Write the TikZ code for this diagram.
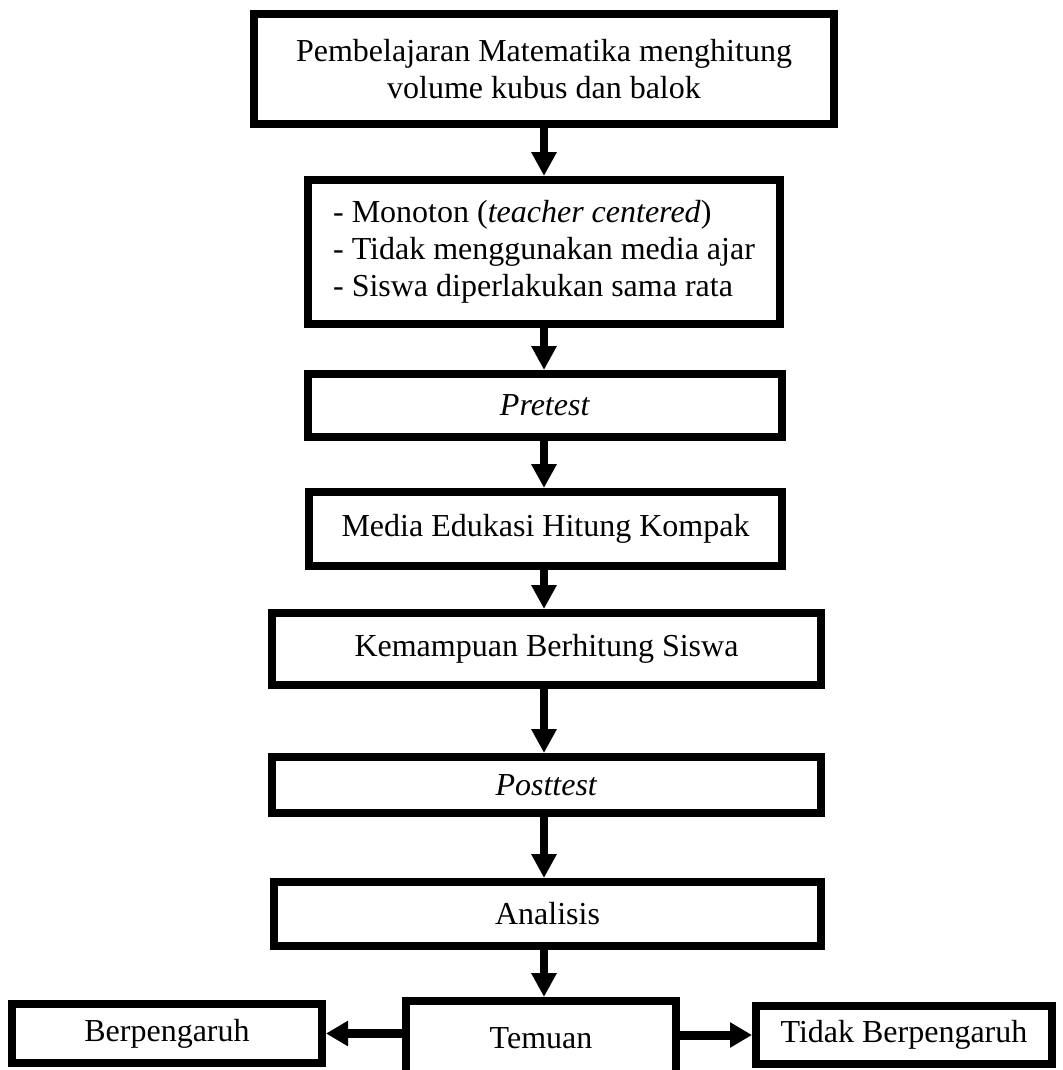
\documentclass[tikz,border=0pt]{standalone}
\usepackage{fontspec}
\setmainfont{Liberation Serif}
\usetikzlibrary{arrows.meta}
\begin{document}
\begin{tikzpicture}[x=1pt,y=-1pt,
  box/.style={draw=black,line width=8pt,rectangle,inner sep=0pt,
    font=\fontsize{32}{37}\selectfont,align=center},
  flow/.style={line width=8pt,-{Triangle[width=24pt,length=24pt]}},
  sflow/.style={line width=9pt,-{Triangle[width=24pt,length=22pt]}}]
\useasboundingbox (0,0) rectangle (1062,1070);
\node[box,minimum width=580pt,minimum height=110pt] (b1) at (544,69)
  {Pembelajaran Matematika menghitung\\volume kubus dan balok};
\node[box,minimum width=472pt,minimum height=144pt,align=left] (b2) at (544,252)
  {- Monoton (\textit{teacher centered})\\- Tidak menggunakan media ajar\\- Siswa diperlakukan sama rata};
\node[box,minimum width=474pt,minimum height=63pt] (b3) at (545,405.5) {\textit{Pretest}};
\node[box,minimum width=473pt,minimum height=74pt] (b4) at (545.5,529) {Media Edukasi Hitung Kompak};
\node[box,minimum width=549pt,minimum height=72pt] (b5) at (546.5,649) {Kemampuan Berhitung Siswa};
\node[box,minimum width=549pt,minimum height=56pt] (b6) at (546.5,785) {\textit{Posttest}};
\node[box,minimum width=547pt,minimum height=64pt] (b7) at (547.5,914) {Analisis};
\node[box,minimum width=270pt,minimum height=74pt] (tem) at (541,1038) {Temuan};
\node[box,minimum width=310pt,minimum height=59pt] (ber) at (167,1033.5) {Berpengaruh};
\node[box,minimum width=296pt,minimum height=58pt] (tid) at (904,1035) {Tidak Berpengaruh};
\draw[flow] (b1.south) -- (b1.south |- b2.north);
\draw[flow] (b1.south |- b2.south) -- (b1.south |- b3.north);
\draw[flow] (b1.south |- b3.south) -- (b1.south |- b4.north);
\draw[flow] (b1.south |- b4.south) -- (b1.south |- b5.north);
\draw[flow] (b1.south |- b5.south) -- (b1.south |- b6.north);
\draw[flow] (b1.south |- b6.south) -- (b1.south |- b7.north);
\draw[flow] (b1.south |- b7.south) -- (b1.south |- tem.north);
\draw[sflow] (tem.west |- ber.east) -- (ber.east);
\draw[sflow] (tem.east |- tid.west) -- (tid.west);
\end{tikzpicture}
\end{document}
